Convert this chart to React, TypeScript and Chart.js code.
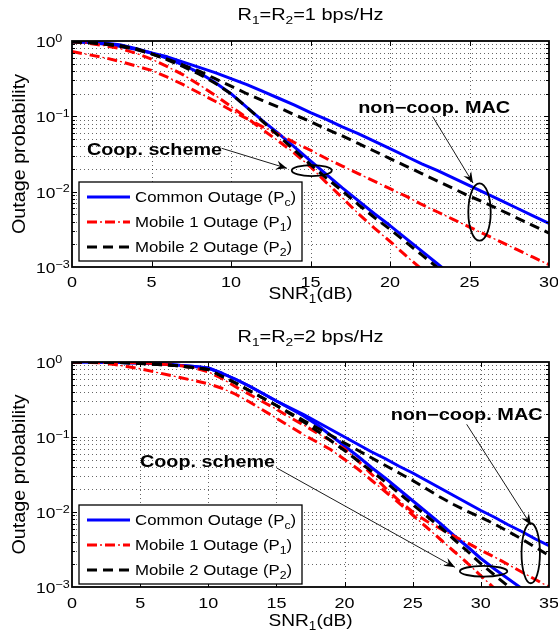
import React, { useEffect, useRef } from "react";
import { Chart, registerables } from "chart.js";

Chart.register(...registerables);

// ---------------- data (values are log10 of outage probability) ----------------
const snrTop = [0, 1, 2, 3, 4, 5, 6, 7, 8, 9, 10, 11, 12, 13, 14, 15, 16, 17, 18, 19, 20, 21, 22, 23, 24, 25, 26, 27, 28, 29, 30];
const snrBottom = [0, 1, 2, 3, 4, 5, 6, 7, 8, 9, 10, 11, 12, 13, 14, 15, 16, 17, 18, 19, 20, 21, 22, 23, 24, 25, 26, 27, 28, 29, 30, 31, 32, 33, 34, 35];

// R1=R2=1 bps/Hz
const topCommonCoop = [-0.005, -0.012, -0.025, -0.05, -0.1, -0.16, -0.23, -0.32, -0.42, -0.55, -0.7, -0.88, -1.06, -1.23, -1.41, -1.59, -1.77, -1.95, -2.12, -2.29, -2.45, -2.62, -2.79, -2.96, -3.13];
const topMobile1Coop = [-0.01, -0.03, -0.06, -0.1, -0.16, -0.24, -0.34, -0.45, -0.58, -0.72, -0.87, -1.02, -1.18, -1.33, -1.49, -1.67, -1.88, -2.08, -2.29, -2.48, -2.66, -2.85, -3.03];
const topMobile2Coop = [-0.01, -0.02, -0.035, -0.06, -0.1, -0.17, -0.25, -0.34, -0.44, -0.56, -0.7, -0.88, -1.07, -1.26, -1.45, -1.64, -1.82, -1.99, -2.17, -2.34, -2.5, -2.67, -2.84, -3.01];
const topCommonNonCoop = [-0.01, -0.02, -0.04, -0.07, -0.11, -0.16, -0.21, -0.28, -0.35, -0.42, -0.5, -0.58, -0.67, -0.76, -0.85, -0.95, -1.04, -1.14, -1.23, -1.33, -1.43, -1.53, -1.63, -1.72, -1.82, -1.92, -2.02, -2.12, -2.22, -2.32, -2.42];
const topMobile1NonCoop = [-0.14, -0.18, -0.22, -0.27, -0.33, -0.39, -0.48, -0.58, -0.69, -0.8, -0.92, -1.03, -1.14, -1.24, -1.35, -1.45, -1.56, -1.66, -1.76, -1.86, -1.96, -2.06, -2.17, -2.27, -2.37, -2.47, -2.57, -2.67, -2.77, -2.87, -2.97];
const topMobile2NonCoop = [-0.01, -0.02, -0.04, -0.07, -0.11, -0.17, -0.24, -0.32, -0.4, -0.5, -0.6, -0.7, -0.79, -0.88, -0.98, -1.07, -1.17, -1.26, -1.36, -1.46, -1.56, -1.66, -1.76, -1.86, -1.96, -2.06, -2.15, -2.25, -2.35, -2.45, -2.55];

// R1=R2=2 bps/Hz
const botCommonCoop = [0, 0, -0.002, -0.005, -0.01, -0.015, -0.02, -0.03, -0.045, -0.06, -0.08, -0.15, -0.23, -0.32, -0.42, -0.52, -0.62, -0.72, -0.84, -0.98, -1.12, -1.26, -1.41, -1.55, -1.7, -1.85, -2.0, -2.15, -2.31, -2.46, -2.62, -2.76, -2.89, -3.02];
const botMobile1Coop = [0, -0.005, -0.01, -0.03, -0.06, -0.09, -0.13, -0.17, -0.21, -0.25, -0.29, -0.35, -0.43, -0.53, -0.64, -0.75, -0.86, -0.97, -1.07, -1.17, -1.3, -1.43, -1.58, -1.73, -1.88, -2.04, -2.2, -2.36, -2.52, -2.68, -2.85, -3.02];
const botMobile2Coop = [0, 0, -0.002, -0.005, -0.01, -0.02, -0.03, -0.04, -0.055, -0.075, -0.1, -0.19, -0.28, -0.38, -0.48, -0.58, -0.69, -0.8, -0.92, -1.05, -1.18, -1.32, -1.46, -1.6, -1.75, -1.9, -2.05, -2.2, -2.36, -2.52, -2.69, -2.84, -2.99, -3.14];
const botCommonNonCoop = [0, 0, -0.002, -0.005, -0.01, -0.015, -0.02, -0.03, -0.045, -0.06, -0.08, -0.15, -0.23, -0.32, -0.42, -0.52, -0.61, -0.7, -0.8, -0.9, -1.0, -1.1, -1.2, -1.29, -1.39, -1.48, -1.58, -1.68, -1.78, -1.88, -1.98, -2.07, -2.17, -2.26, -2.36, -2.45];
const botMobile1NonCoop = [0, 0, 0, -0.003, -0.006, -0.01, -0.02, -0.035, -0.05, -0.08, -0.13, -0.22, -0.33, -0.43, -0.53, -0.63, -0.74, -0.84, -0.95, -1.05, -1.16, -1.32, -1.5, -1.68, -1.85, -2.0, -2.12, -2.22, -2.32, -2.41, -2.51, -2.6, -2.7, -2.8, -2.9, -3.0];
const botMobile2NonCoop = [0, 0, -0.002, -0.005, -0.01, -0.02, -0.03, -0.04, -0.055, -0.075, -0.1, -0.19, -0.28, -0.38, -0.48, -0.58, -0.68, -0.78, -0.88, -0.98, -1.08, -1.18, -1.28, -1.38, -1.48, -1.58, -1.69, -1.8, -1.9, -1.99, -2.07, -2.16, -2.26, -2.36, -2.47, -2.58];

const xTicksTop = [0, 5, 10, 15, 20, 25, 30];
const xTicksBottom = [0, 5, 10, 15, 20, 25, 30, 35];
const yDecades = [0, -1, -2, -3];
const yExpLabels = ["0", "\u22121", "\u22122", "\u22123"];
const legendNames = ["Common Outage (P", "Mobile 1 Outage (P", "Mobile 2 Outage (P"];
const legendSubs = ["c", "1", "2"];
const coopLabel = "Coop. scheme";
const nonCoopLabel = "non\u2212coop. MAC";

// ---------------- styles ----------------
const FONT = '"Liberation Sans", Arial, Helvetica, sans-serif';
const COLORS = ["#0000ff", "#ff0000", "#000000"];
const DASHES = [[], [10, 8], [10, 6]];
const LW = 3;
// thin dot of the red dash-dot pattern
const DOT_DASH = [2, 16];
const DOT_OFFSET = 5;

type Seg = { t: string; size: number; bold?: boolean; dy?: number };

function fontOf(s: Seg) {
  return `${s.bold ? "bold " : ""}${s.size}px ${FONT}`;
}
function measure(ctx: CanvasRenderingContext2D, segs: Seg[]) {
  let w = 0;
  for (const s of segs) {
    ctx.font = fontOf(s);
    w += ctx.measureText(s.t).width;
  }
  return w;
}
function drawRich(
  ctx: CanvasRenderingContext2D,
  segs: Seg[],
  x: number,
  y: number,
  opts: { align?: "left" | "center" | "right"; sx?: number; width?: number; rotate?: number } = {}
) {
  ctx.save();
  const w = measure(ctx, segs);
  const sx = opts.width ? opts.width / w : opts.sx ?? 1;
  ctx.translate(x, y);
  if (opts.rotate) ctx.rotate(opts.rotate);
  ctx.scale(sx, 1);
  let cx = opts.align === "center" ? -w / 2 : opts.align === "right" ? -w : 0;
  ctx.textAlign = "left";
  ctx.textBaseline = "alphabetic";
  ctx.fillStyle = "#000";
  for (const s of segs) {
    ctx.font = fontOf(s);
    ctx.fillText(s.t, cx, s.dy ?? 0);
    cx += ctx.measureText(s.t).width;
  }
  ctx.restore();
}

function series(snr: number[], logs: number[]) {
  return logs.map((v, i) => ({ x: snr[i], y: Math.pow(10, v) }));
}

type Ann = {
  text: [number, number];
  arrow: [number, number, number, number];
  ellipse: [number, number, number, number];
};

type PanelCfg = {
  height: number;
  top: number;
  bottom: number;
  xMax: number;
  xTicks: number[];
  rate: string;
  titleBase: number;
  tickBase: number;
  xLabelBase: number;
  legendTop: number;
  coop: Ann;
  non: Ann;
  snr: number[];
  coopSeries: number[][];
  nonSeries: number[][];
};

const PLOT_LEFT = 72;
const PLOT_RIGHT = 549;
const WIDTH = 558;

function makePlugin(cfg: PanelCfg) {
  return {
    id: "matlabDecor",
    beforeDatasetsDraw(chart: any) {
      const { ctx, chartArea: a, scales } = chart;
      const xs = scales.x;
      const ys = scales.y;
      ctx.save();
      ctx.strokeStyle = "rgba(0,0,0,0.6)";
      ctx.lineWidth = 1;
      ctx.setLineDash([1, 3]);
      for (const t of cfg.xTicks) {
        if (t <= 0 || t >= cfg.xMax) continue;
        const px = Math.round(xs.getPixelForValue(t)) + 0.5;
        ctx.beginPath();
        ctx.moveTo(px, a.top);
        ctx.lineTo(px, a.bottom);
        ctx.stroke();
      }
      for (const d of [-3, -2, -1]) {
        for (let k = 1; k <= 9; k++) {
          if (d === -3 && k === 1) continue;
          const py = Math.round(ys.getPixelForValue(k * Math.pow(10, d))) + 0.5;
          ctx.beginPath();
          ctx.moveTo(a.left, py);
          ctx.lineTo(a.right, py);
          ctx.stroke();
        }
      }
      ctx.restore();
    },
    afterDatasetsDraw(chart: any) {
      const { ctx, chartArea: a, scales } = chart;
      const xs = scales.x;
      const ys = scales.y;
      const X = (v: number) => xs.getPixelForValue(v);
      const Y = (lg: number) => ys.getPixelForValue(Math.pow(10, lg));
      ctx.save();
      ctx.setLineDash([]);
      ctx.strokeStyle = "#000";
      // ticks (inward)
      ctx.lineWidth = 1;
      for (const t of cfg.xTicks) {
        if (t <= 0 || t >= cfg.xMax) continue;
        const px = Math.round(X(t)) + 0.5;
        ctx.beginPath();
        ctx.moveTo(px, a.bottom);
        ctx.lineTo(px, a.bottom - 5);
        ctx.moveTo(px, a.top);
        ctx.lineTo(px, a.top + 5);
        ctx.stroke();
      }
      for (const d of [-3, -2, -1, 0]) {
        for (let k = 1; k <= 9; k++) {
          const v = k * Math.pow(10, d);
          if (v <= 1e-3 || v >= 1) continue;
          const len = k === 1 ? 5 : 3;
          const py = Math.round(ys.getPixelForValue(v)) + 0.5;
          ctx.beginPath();
          ctx.moveTo(a.left, py);
          ctx.lineTo(a.left + len, py);
          ctx.moveTo(a.right, py);
          ctx.lineTo(a.right - len, py);
          ctx.stroke();
        }
      }
      // box
      ctx.lineWidth = 1.8;
      ctx.strokeRect(a.left, a.top, a.right - a.left, a.bottom - a.top);

      // annotations
      const annotate = (ann: Ann, label: string, width: number) => {
        const [tx, ty] = ann.text;
        drawRich(ctx, [{ t: label, size: 16, bold: true }], X(tx), Y(ty) + 5.8, { width });
        const [ax1, ay1, ax2, ay2] = ann.arrow;
        const x1 = X(ax1), y1 = Y(ay1), x2 = X(ax2), y2 = Y(ay2);
        ctx.lineWidth = 0.9;
        ctx.beginPath();
        ctx.moveTo(x1, y1);
        ctx.lineTo(x2, y2);
        ctx.stroke();
        const ang = Math.atan2(y2 - y1, x2 - x1);
        const ux = Math.cos(ang), uy = Math.sin(ang);
        const nx = -uy, ny = ux;
        const L = 11, Wd = 4.5;
        ctx.fillStyle = "#000";
        ctx.beginPath();
        ctx.moveTo(x2, y2);
        ctx.lineTo(x2 - L * ux + Wd * nx, y2 - L * uy + Wd * ny);
        ctx.lineTo(x2 - 0.65 * L * ux, y2 - 0.65 * L * uy);
        ctx.lineTo(x2 - L * ux - Wd * nx, y2 - L * uy - Wd * ny);
        ctx.closePath();
        ctx.fill();
        const [ex, ey, rx, ry] = ann.ellipse;
        ctx.lineWidth = 1.8;
        ctx.beginPath();
        ctx.ellipse(X(ex), Y(ey), rx, ry, 0, 0, Math.PI * 2);
        ctx.stroke();
      };
      annotate(cfg.coop, coopLabel, 135);
      annotate(cfg.non, nonCoopLabel, 152);

      // legend
      const lt = cfg.legendTop;
      ctx.fillStyle = "#fff";
      ctx.fillRect(79, lt, 223, 79);
      ctx.lineWidth = 1.3;
      ctx.strokeStyle = "#000";
      ctx.strokeRect(79, lt, 223, 79);
      for (let i = 0; i < 3; i++) {
        const cy = lt + 14 + 25 * i;
        ctx.save();
        ctx.strokeStyle = COLORS[i];
        ctx.lineWidth = LW;
        ctx.lineCap = "butt";
        ctx.setLineDash(DASHES[i]);
        ctx.beginPath();
        ctx.moveTo(87, cy + 1);
        ctx.lineTo(130, cy + 1);
        ctx.stroke();
        if (i === 1) {
          ctx.lineWidth = 1.3;
          ctx.setLineDash(DOT_DASH);
          ctx.lineDashOffset = DOT_OFFSET;
          ctx.beginPath();
          ctx.moveTo(87, cy + 1);
          ctx.lineTo(130, cy + 1);
          ctx.stroke();
        }
        ctx.restore();
        drawRich(
          ctx,
          [
            { t: legendNames[i], size: 15 },
            { t: legendSubs[i], size: 11, dy: 4 },
            { t: ")", size: 15 },
          ],
          135,
          cy + 5.5,
          { sx: 1.12 }
        );
      }

      // tick labels
      for (const t of cfg.xTicks) {
        drawRich(ctx, [{ t: String(t), size: 15 }], X(t), cfg.tickBase, { align: "center", sx: 1.2 });
      }
      yDecades.forEach((d, i) => {
        const py = Y(d);
        drawRich(
          ctx,
          [
            { t: "10", size: 14.5 },
            { t: yExpLabels[i], size: 10.5, dy: -5.5 },
          ],
          36,
          py + 6,
          { sx: 1.2 }
        );
      });

      // title
      drawRich(
        ctx,
        [
          { t: "R", size: 16 },
          { t: "1", size: 11, dy: 4 },
          { t: "=R", size: 16 },
          { t: "2", size: 11, dy: 4 },
          { t: `=${cfg.rate} bps/Hz`, size: 16 },
        ],
        (a.left + a.right) / 2,
        cfg.titleBase,
        { align: "center", width: 146 }
      );
      // x label
      drawRich(
        ctx,
        [
          { t: "SNR", size: 17 },
          { t: "1", size: 12, dy: 4 },
          { t: "(dB)", size: 17 },
        ],
        (a.left + a.right) / 2,
        cfg.xLabelBase,
        { align: "center", width: 84 }
      );
      // y label
      drawRich(ctx, [{ t: "Outage probability", size: 18 }], 25, (a.top + a.bottom) / 2, {
        align: "center",
        width: 160,
        rotate: -Math.PI / 2,
      });
      ctx.restore();
    },
  };
}

function Panel({ cfg }: { cfg: PanelCfg }) {
  const ref = useRef<HTMLCanvasElement>(null);
  useEffect(() => {
    const canvas = ref.current!;
    const datasets: any[] = [];
    // draw order: first dataset ends on top -> black, red, blue
    for (const idx of [2, 1, 0]) {
      for (const group of [cfg.coopSeries, cfg.nonSeries]) {
        const data = series(cfg.snr, group[idx]);
        if (idx === 1) {
          datasets.push({
            data,
            borderColor: COLORS[idx],
            borderWidth: 1.3,
            borderDash: DOT_DASH,
            borderDashOffset: DOT_OFFSET,
            borderCapStyle: "butt",
            pointRadius: 0,
            fill: false,
            tension: 0,
          });
        }
        datasets.push({
          data,
          borderColor: COLORS[idx],
          borderWidth: LW,
          borderDash: DASHES[idx],
          borderCapStyle: "butt",
          borderJoinStyle: "round",
          pointRadius: 0,
          fill: false,
          tension: 0,
        });
      }
    }
    const chart = new Chart(canvas, {
      type: "line",
      data: { datasets },
      options: {
        animation: false,
        responsive: false,
        maintainAspectRatio: false,
        parsing: false as any,
        layout: {
          padding: {
            left: PLOT_LEFT,
            right: WIDTH - PLOT_RIGHT,
            top: cfg.top,
            bottom: cfg.height - cfg.bottom,
          },
        },
        scales: {
          x: { type: "linear", min: 0, max: cfg.xMax, display: false },
          y: { type: "logarithmic", min: 1e-3, max: 1, display: false },
        },
        plugins: {
          legend: { display: false },
          title: { display: false },
          tooltip: { enabled: false },
        },
      },
      plugins: [makePlugin(cfg) as any],
    });
    return () => chart.destroy();
  }, [cfg]);
  return (
    <canvas
      ref={ref}
      width={WIDTH}
      height={cfg.height}
      style={{ display: "block", width: WIDTH, height: cfg.height }}
    />
  );
}

const topCfg: PanelCfg = {
  height: 317,
  top: 41,
  bottom: 267,
  xMax: 30,
  xTicks: xTicksTop,
  rate: "1",
  titleBase: 20,
  tickBase: 287,
  xLabelBase: 299,
  legendTop: 182,
  coop: { text: [0.94, -1.434], arrow: [9.41, -1.424, 13.52, -1.69], ellipse: [15.08, -1.72, 20, 5.5] },
  non: { text: [18.0, -0.883], arrow: [22.7, -1.009, 25.22, -1.885], ellipse: [25.63, -2.27, 11.2, 28.7] },
  snr: snrTop,
  coopSeries: [topCommonCoop, topMobile1Coop, topMobile2Coop],
  nonSeries: [topCommonNonCoop, topMobile1NonCoop, topMobile2NonCoop],
};

const bottomCfg: PanelCfg = {
  height: 318,
  top: 45,
  bottom: 270,
  xMax: 35,
  xTicks: xTicksBottom,
  rate: "2",
  titleBase: 25,
  tickBase: 291,
  xLabelBase: 309,
  legendTop: 188,
  coop: { text: [4.99, -1.324], arrow: [15.02, -1.413, 28.1, -2.737], ellipse: [30.2, -2.79, 23.7, 5.3] },
  non: { text: [23.38, -0.696], arrow: [28.96, -0.831, 33.68, -2.173], ellipse: [33.66, -2.55, 9.2, 30] },
  snr: snrBottom,
  coopSeries: [botCommonCoop, botMobile1Coop, botMobile2Coop],
  nonSeries: [botCommonNonCoop, botMobile1NonCoop, botMobile2NonCoop],
};

export default function App() {
  return (
    <div style={{ position: "absolute", left: 0, top: 0, width: WIDTH, height: 635, background: "#fff" }}>
      <Panel cfg={topCfg} />
      <Panel cfg={bottomCfg} />
    </div>
  );
}
